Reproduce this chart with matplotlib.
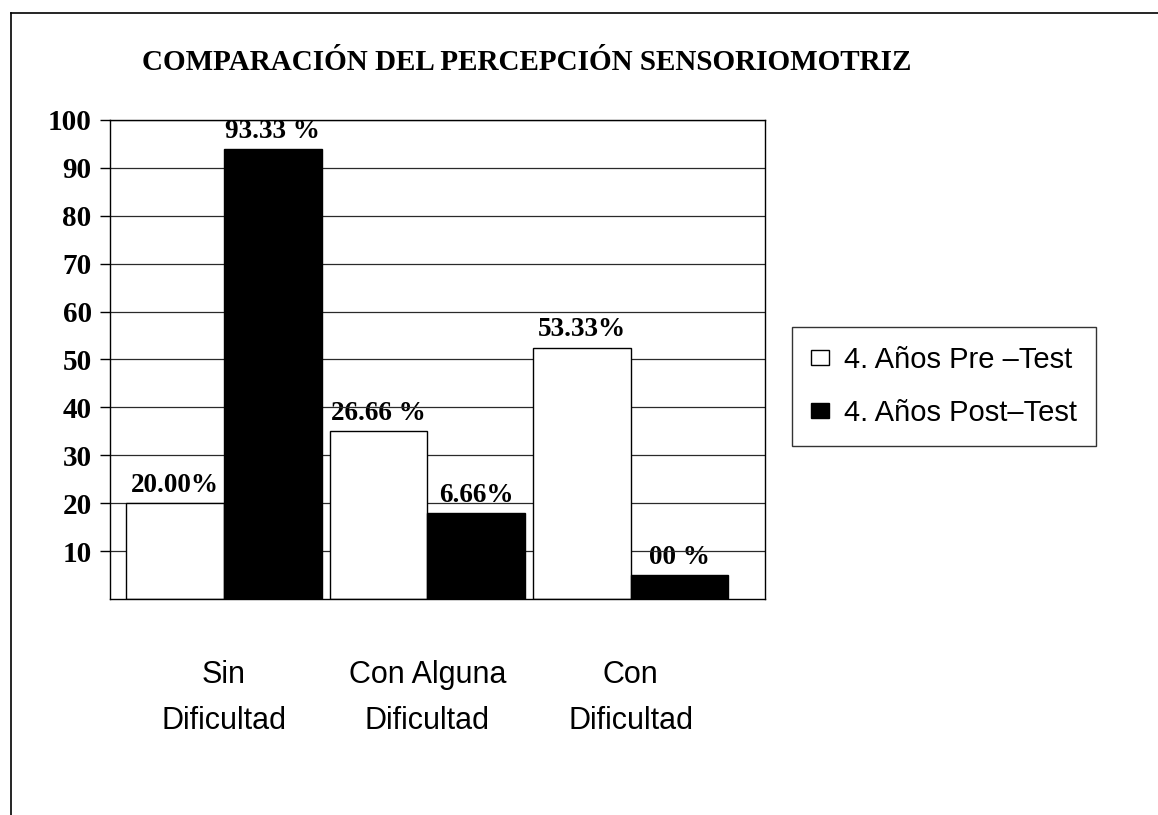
import numpy as np
import matplotlib
matplotlib.use("Agg")
import matplotlib.pyplot as plt
from matplotlib.lines import Line2D

CATEGORIES = ["Sin\nDificultad", "Con Alguna\nDificultad", "Con\nDificultad"]
PRE_TEST = [20, 35, 52.5]
POST_TEST = [94, 18, 5]
PRE_LABELS = ["20.00%", "26.66 %", "53.33%"]
POST_LABELS = ["93.33 %", "6.66%", "00 %"]
SERIES_NAMES = ["4. Años Pre \u2013Test", "4. Años Post\u2013Test"]
Y_TICKS = [10, 20, 30, 40, 50, 60, 70, 80, 90, 100]

SERIF = "Liberation Serif"
SANS = "Liberation Sans"
W, H = 1158, 815


def main():
    fig = plt.figure(figsize=(W / 100, H / 100), dpi=100)
    fig.patch.set_facecolor("white")

    # plot area in pixels: x 110..765, y 120..599
    ax = fig.add_axes([110 / W, 1 - 599 / H, 655 / W, 479 / H])

    x = np.arange(len(CATEGORIES))
    width = 0.48
    pre = ax.bar(x - width / 2, PRE_TEST, width, color="white",
                 edgecolor="black", linewidth=1.0, zorder=2)
    post = ax.bar(x + width / 2, POST_TEST, width, color="black",
                  edgecolor="black", linewidth=1.0, zorder=2)

    for bars, labels in ((pre, PRE_LABELS), (post, POST_LABELS)):
        for b, lab in zip(bars, labels):
            ax.annotate(lab, (b.get_x() + b.get_width() / 2, b.get_height()),
                        xytext=(0, 8), textcoords="offset points",
                        ha="center", va="baseline", fontsize=19.5,
                        fontweight="bold", family=SERIF, zorder=0.3)

    ax.set_xlim(-0.56, 2.66)
    ax.set_ylim(0, 100)
    ax.set_yticks(Y_TICKS)
    ax.set_yticklabels([str(t) for t in Y_TICKS], fontsize=21,
                       fontweight="bold", family=SERIF)
    ax.tick_params(axis="y", direction="out", length=7.2, width=1, pad=6,
                   colors="black")
    ax.set_xticks(x)
    ax.set_xticklabels(CATEGORIES, fontsize=22, family=SANS, linespacing=1.7)
    ax.tick_params(axis="x", length=0, pad=44)

    ax.set_axisbelow(True)
    ax.yaxis.grid(True, color="#2a2a2a", linewidth=0.9)
    for s in ax.spines.values():
        s.set_color("black")
        s.set_linewidth(1.0)

    fig.text(527 / W, 1 - 70 / H, "COMPARACIÓN DEL PERCEPCIÓN SENSORIOMOTRIZ",
             ha="center", va="baseline", fontsize=21, fontweight="bold",
             family=SERIF)

    leg = fig.legend([pre, post], SERIES_NAMES, loc="upper left",
                     bbox_to_anchor=(792 / W, 1 - 327 / H),
                     bbox_transform=fig.transFigure,
                     prop={"family": SANS, "size": 21},
                     frameon=True, fancybox=False, shadow=False,
                     handlelength=0.62, handleheight=0.45,
                     handletextpad=0.5, borderpad=0.65, labelspacing=0.85,
                     borderaxespad=0)
    leg.get_frame().set_edgecolor("black")
    leg.get_frame().set_linewidth(1.0)

    # page frame from the scanned sheet (top and left edges)
    fig.add_artist(Line2D([11 / W, 1], [1 - 13 / H, 1 - 13 / H],
                          transform=fig.transFigure, color="black", lw=1.2))
    fig.add_artist(Line2D([11 / W, 11 / W], [0, 1 - 13 / H],
                          transform=fig.transFigure, color="black", lw=1.2))

    fig.savefig("out.png", dpi=100)


if __name__ == "__main__":
    main()
